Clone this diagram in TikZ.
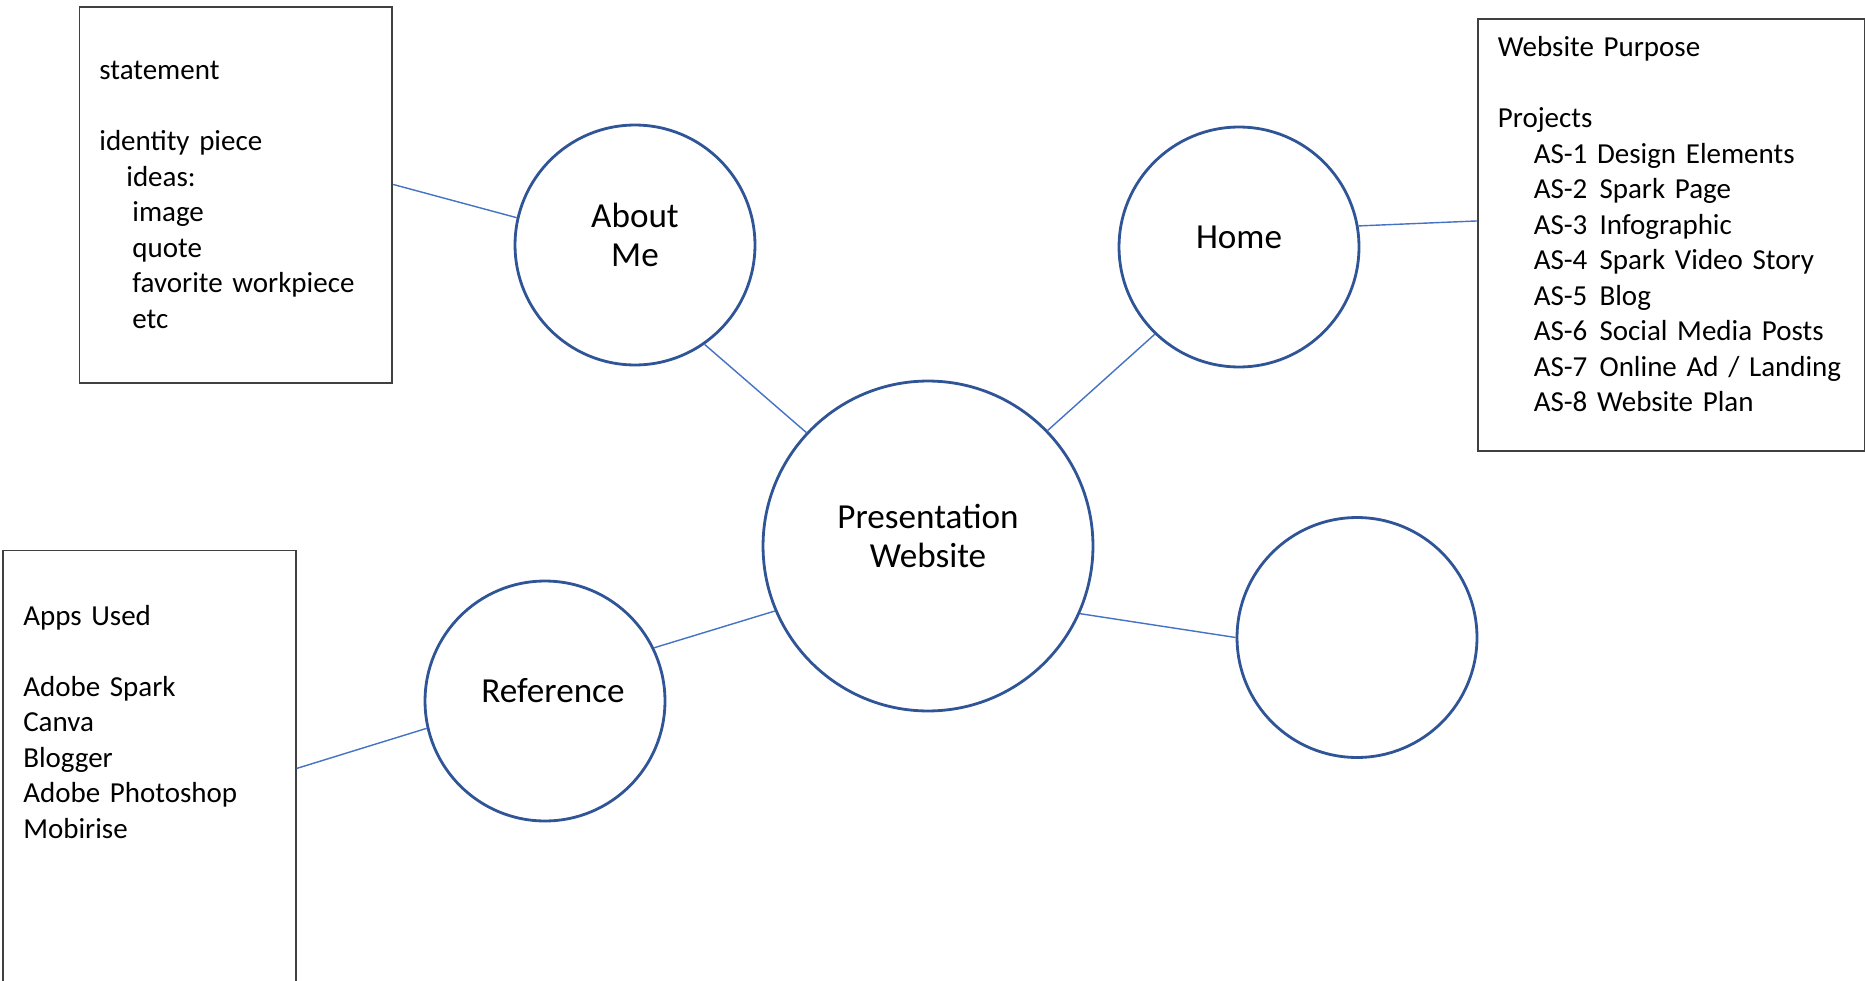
\documentclass[tikz,border=0pt]{standalone}
\usepackage{fontspec}
\setmainfont{Carlito}
\usepackage{tikz}
\definecolor{ringCol}{HTML}{2F5597}
\definecolor{linkCol}{HTML}{4472C4}
\definecolor{boxCol}{HTML}{404040}
\newcommand{\asgap}{\hspace{0.42em}}
\tikzset{
  topic/.style={
    circle, draw=ringCol, line width=1.6pt, minimum size=4.8cm, inner sep=0pt,
  },
  hub/.style={
    topic, minimum size=6.6cm,
  },
  topictext/.style={
    align=center, font=\fontsize{20pt}{22.3pt}\selectfont,
  },
  notebox/.style={
    rectangle, draw=boxCol, line width=1pt, anchor=north west, align=left,
    inner xsep=0.4cm, font=\fontsize{16.5pt}{20.2pt}\selectfont,
  },
  link/.style={
    draw=linkCol, line width=0.8pt,
  },
}

\begin{document}
\begin{tikzpicture}[x=0.02cm, y=-0.02cm]

\useasboundingbox (0,0) rectangle (1865,980);
\clip (0,0) rectangle (1865,980);

% Circles
\node[topic] (about) at (635,245) {};
\node[topic] (home) at (1239,247) {};
\node[hub] (web) at (928,546) {};
\node[topic] (ref) at (545,701) {};
\node[topic] (blank) at (1357,637.5) {};

\node[topictext] (aboutlbl) at ([yshift=0.2cm]about.center) {About\\Me};
\node[topictext] (homelbl) at ([yshift=0.2cm]home.center) {Home};
\node[topictext] (weblbl) at ([yshift=0.2cm]web.center) {Presentation\\Website};
\node[topictext] (reflbl) at ([xshift=0.16cm,yshift=0.2cm]ref.center) {Reference};

% Note boxes
\node[notebox, text width=5.46cm, minimum height=7.52cm] (stmtbox) at (78.5,6)
  {statement\\[20.2pt]
   identity piece\\
   \hspace*{0.54cm}ideas:\\
   \hspace*{0.66cm}image\\
   \hspace*{0.66cm}quote\\
   \hspace*{0.66cm}favorite workpiece\\
   \hspace*{0.66cm}etc};

\node[notebox, text width=6.94cm, minimum height=8.64cm, text depth=214pt] (purposebox) at (1477,18)
  {Website Purpose\\[20.2pt]
   Projects\\
   \hspace*{0.72cm}AS-1 Design Elements\\
   \hspace*{0.72cm}AS-2\asgap Spark Page\\
   \hspace*{0.72cm}AS-3\asgap Infographic\\
   \hspace*{0.72cm}AS-4\asgap Spark Video Story\\
   \hspace*{0.72cm}AS-5\asgap Blog\\
   \hspace*{0.72cm}\mbox{AS-6\asgap Social Media Posts}\\
   \hspace*{0.72cm}\mbox{AS-7\asgap Online Ad / Landing}\\
   \hspace*{0.72cm}AS-8 Website Plan};

\node[notebox, text width=5.05cm, inner ysep=1.1cm, text depth=8cm] (appsbox) at (2.4,549.5)
  {Apps Used\\[20.2pt]
   Adobe Spark\\
   Canva\\
   Blogger\\
   Adobe Photoshop\\
   Mobirise};

% Connectors
\draw[link] ([yshift=-3.57cm]stmtbox.north east) -- (about.167);
\draw[link] (about.-55) -- (web.137);
\draw[link] (home.226) -- (web.44);
\draw[link] (home.10) -- ([yshift=-4.06cm]purposebox.north west);
\draw[link] (web.203) -- (ref.26);
\draw[link] (ref.193) -- ([yshift=-4.38cm]appsbox.north east);
\draw[link] (web.-24) -- (blank.west);

\end{tikzpicture}
\end{document}
